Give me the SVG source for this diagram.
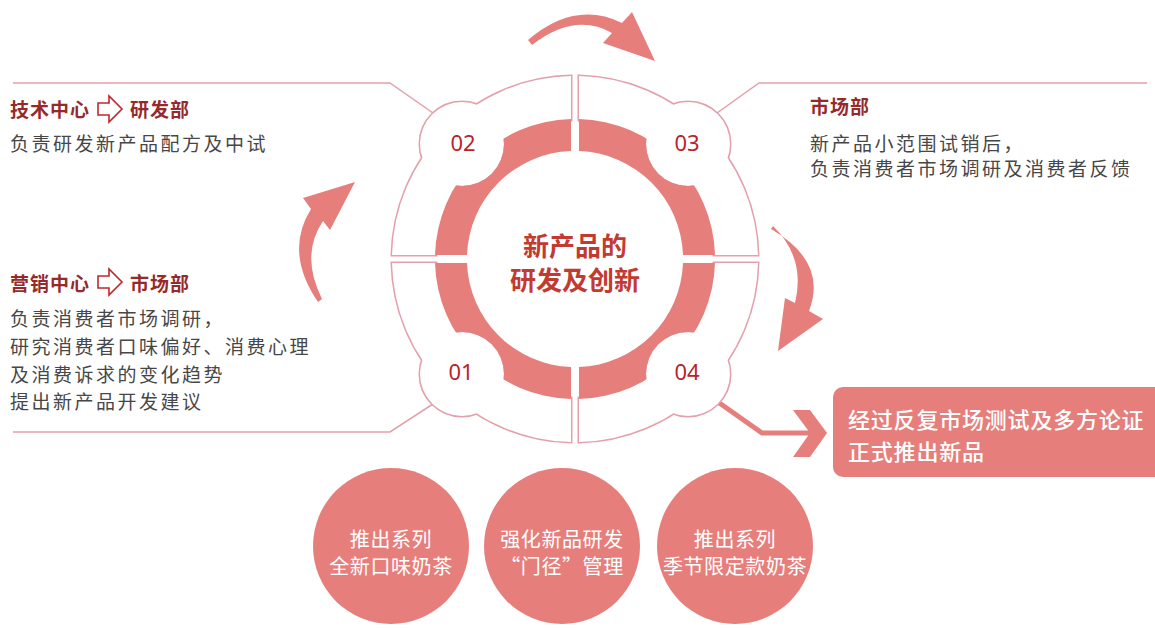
<svg xmlns="http://www.w3.org/2000/svg" width="1155" height="630" viewBox="0 0 1155 630">
<style>
.cjk{font-family:"Noto Sans CJK SC","Noto Sans",sans-serif}
.head{font-size:19px;font-weight:700;fill:#962a2a;letter-spacing:1px}
.body{font-size:19px;fill:#474747;letter-spacing:2.5px}
.num{font-family:"Noto Sans","DejaVu Sans",sans-serif;font-size:22px;fill:#bb2229;text-anchor:middle}
.ol{fill:#fff;stroke:#e3a0aa;stroke-width:3}
.wf{fill:#fff;stroke:none}
.red{fill:#e67f7c}
.thin{fill:none;stroke:#e3a0aa;stroke-width:1.5}
.wt{fill:#fff;font-size:20px;text-anchor:middle;letter-spacing:0.6px}
.bt{fill:#fff;font-size:22px;font-weight:500;letter-spacing:0.8px}
.hollow{fill:none;stroke:#c0272d;stroke-width:1.6;stroke-linejoin:miter}
</style>
<defs>
<mask id="ringmask" maskUnits="userSpaceOnUse" x="0" y="0" width="1155" height="630">
<rect x="0" y="0" width="1155" height="630" fill="#fff"/>
<circle cx="462" cy="144" r="42" fill="#000"/>
<circle cx="688" cy="144" r="42" fill="#000"/>
<circle cx="688" cy="374" r="42" fill="#000"/>
<circle cx="462" cy="374" r="42" fill="#000"/>
</mask>
</defs>

<g id="connectors">
<path class="thin" d="M433,113 L390,83 L13,83"/>
<path class="thin" d="M433,404 L390,432 L13,432"/>
<path class="thin" d="M717,113 L759,83 L1147,83"/>
<path d="M718,402 L762,433 L812,433" fill="none" stroke="#e67f7c" stroke-width="5"/>
<polygon class="red" points="793,410 810,410 827,433 810,457 793,457 810,433"/>
<path class="red" d="M528,40 Q575,0 622,23 L632,12 L655,61 L603,43 L612,33 Q575,12 532,45 Z"/>
<path class="red" d="M771,229 Q828,262 809,311 L823,319 L778,351 L785,298 L795,303 Q806,258 773,226 Z"/>
<path class="red" d="M318,302 Q284,252 311,209 L303,198 L355,182 L330,230 L323,221 Q300,255 322,299 Z"/>
</g>

<g id="step-02">
<path class="ol" d="M392,255 A183,183 0 0 1 571,76 L571,120 A139,139 0 0 0 436,255 Z"/>
<circle class="ol" cx="462" cy="144" r="42"/>
<path class="wf" d="M392,255 A183,183 0 0 1 571,76 L571,120 A139,139 0 0 0 436,255 Z"/>
<circle class="wf" cx="462" cy="144" r="42"/>
<path class="red" mask="url(#ringmask)" d="M435,255 A140,140 0 0 1 571,119 L571,151 A108,108 0 0 0 467,255 Z"/>
<text class="num" x="463" y="151">02</text>
</g>

<g id="step-03">
<path class="ol" d="M579,76 A183,183 0 0 1 758,255 L714,255 A139,139 0 0 0 579,120 Z"/>
<circle class="ol" cx="688" cy="144" r="42"/>
<path class="wf" d="M579,76 A183,183 0 0 1 758,255 L714,255 A139,139 0 0 0 579,120 Z"/>
<circle class="wf" cx="688" cy="144" r="42"/>
<path class="red" mask="url(#ringmask)" d="M579,119 A140,140 0 0 1 715,255 L683,255 A108,108 0 0 0 579,151 Z"/>
<text class="num" x="687" y="151">03</text>
</g>

<g id="step-04">
<path class="ol" d="M758,263 A183,183 0 0 1 579,442 L579,398 A139,139 0 0 0 714,263 Z"/>
<circle class="ol" cx="688" cy="374" r="42"/>
<path class="wf" d="M758,263 A183,183 0 0 1 579,442 L579,398 A139,139 0 0 0 714,263 Z"/>
<circle class="wf" cx="688" cy="374" r="42"/>
<path class="red" mask="url(#ringmask)" d="M715,263 A140,140 0 0 1 579,399 L579,367 A108,108 0 0 0 683,263 Z"/>
<text class="num" x="687" y="380">04</text>
</g>

<g id="step-01">
<path class="ol" d="M571,442 A183,183 0 0 1 392,263 L436,263 A139,139 0 0 0 571,398 Z"/>
<circle class="ol" cx="462" cy="374" r="42"/>
<path class="wf" d="M571,442 A183,183 0 0 1 392,263 L436,263 A139,139 0 0 0 571,398 Z"/>
<circle class="wf" cx="462" cy="374" r="42"/>
<path class="red" mask="url(#ringmask)" d="M571,399 A140,140 0 0 1 435,263 L467,263 A108,108 0 0 0 571,367 Z"/>
<text class="num" x="461" y="380">01</text>
</g>

<g id="center-title" class="cjk" font-size="26" font-weight="700" fill="#c23a30" text-anchor="middle">
<text x="575" y="244" dominant-baseline="central">新产品的</text>
<text x="575" y="278" dominant-baseline="central">研发及创新</text>
</g>

<g id="tech-center" class="cjk">
<text class="head" x="10" y="108" dominant-baseline="central">技术中心</text>
<path class="hollow" d="M98,103 H109 V96 L122,109 L109,122 V115 H98 Z"/>
<text class="head" x="130" y="108" dominant-baseline="central">研发部</text>
<text class="body" x="10" y="142" dominant-baseline="central">负责研发新产品配方及中试</text>
</g>

<g id="marketing-center" class="cjk">
<text class="head" x="10" y="282" dominant-baseline="central">营销中心</text>
<path class="hollow" d="M98,276 H109 V269 L122,282 L109,295 V288 H98 Z"/>
<text class="head" x="130" y="282" dominant-baseline="central">市场部</text>
<text class="body" x="10" y="317" dominant-baseline="central">负责消费者市场调研，</text>
<text class="body" x="10" y="345" dominant-baseline="central">研究消费者口味偏好、消费心理</text>
<text class="body" x="10" y="373" dominant-baseline="central">及消费诉求的变化趋势</text>
<text class="body" x="10" y="400" dominant-baseline="central">提出新产品开发建议</text>
</g>

<g id="market-dept" class="cjk">
<text class="head" x="810" y="105" dominant-baseline="central">市场部</text>
<text class="body" x="810" y="142" dominant-baseline="central">新产品小范围试销后，</text>
<text class="body" x="810" y="167" dominant-baseline="central">负责消费者市场调研及消费者反馈</text>
</g>

<g id="launch-box" class="cjk">
<rect x="833" y="387" width="340" height="90" rx="10" class="red"/>
<text class="bt" x="848" y="418" dominant-baseline="central">经过反复市场测试及多方论证</text>
<text class="bt" x="848" y="450" dominant-baseline="central">正式推出新品</text>
</g>

<g id="circle-1" class="cjk">
<circle cx="391" cy="546" r="78" class="red"/>
<text class="wt" x="391" y="538" dominant-baseline="central">推出系列</text>
<text class="wt" x="391" y="565" dominant-baseline="central">全新口味奶茶</text>
</g>
<g id="circle-2" class="cjk">
<circle cx="562" cy="546" r="78" class="red"/>
<text class="wt" x="562" y="538" dominant-baseline="central">强化新品研发</text>
<text class="wt" x="562" y="565" dominant-baseline="central">“门径”管理</text>
</g>
<g id="circle-3" class="cjk">
<circle cx="735" cy="546" r="78" class="red"/>
<text class="wt" x="735" y="538" dominant-baseline="central">推出系列</text>
<text class="wt" x="735" y="565" dominant-baseline="central">季节限定款奶茶</text>
</g>
</svg>
